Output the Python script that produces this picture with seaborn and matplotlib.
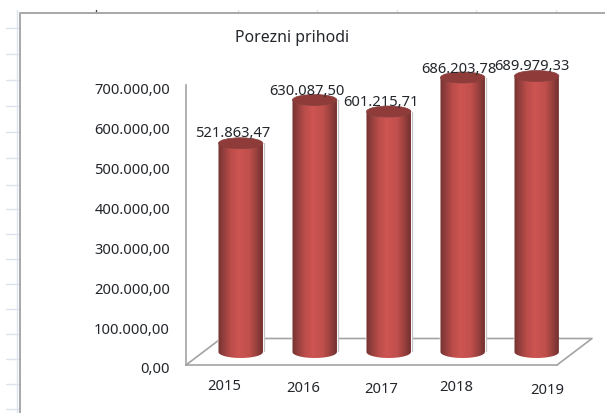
import numpy as np
import matplotlib
matplotlib.use("Agg")
import matplotlib.pyplot as plt
from matplotlib.lines import Line2D
from matplotlib.patches import Ellipse, PathPatch
from matplotlib.path import Path
from matplotlib.colors import LinearSegmentedColormap
from matplotlib.transforms import ScaledTranslation
import seaborn as sns

years = ["2015", "2016", "2017", "2018", "2019"]
revenue = [521863.47, 630087.50, 601215.71, 686203.78, 689979.33]
y_ticks = [0, 100000, 200000, 300000, 400000, 500000, 600000, 700000]
title = "Porezni prihodi"

W, H = 605, 414
sns.set_theme(style="white")
plt.rcParams["font.family"] = ["Noto Sans", "DejaVu Sans"]
TXT = "#23262b"
GREY = "#a3a3a3"
FS = 10.6


def fmt(v):
    return f"{v:,.2f}".replace(",", "#").replace(".", ",").replace("#", ".")


def rect(left, top, right, bottom):
    return [left / W, 1 - bottom / H, (right - left) / W, (bottom - top) / H]


def fx(x):
    return x / W


def fy(y):
    return 1 - y / H


fig = plt.figure(figsize=(W / 100, H / 100), dpi=100, facecolor="white")

# worksheet remnants behind the chart
sheet = "#dde2ee"
for yy in [29, 55, 81, 107, 133, 159, 186, 210, 235, 260, 285, 310, 335, 360, 385, 410]:
    fig.add_artist(Line2D([fx(6), fx(20)], [fy(yy), fy(yy)], color=sheet, lw=1))
fig.add_artist(Line2D([fx(16.5), fx(16.5)], [fy(11), fy(414)], color=sheet, lw=1))
for xx in [238, 317, 397, 476, 556]:
    fig.add_artist(Line2D([fx(xx), fx(xx)], [fy(11), fy(14)], color=sheet, lw=1))
fig.add_artist(Line2D([fx(96), fx(96)], [fy(11), fy(14)], color="#444444", lw=1))
# chart frame
fig.add_artist(Line2D([fx(20), fx(20), fx(605)], [fy(414), fy(14), fy(14)], color="#a8a8a8", lw=1.4))

# value axis and floor front edge
ax = fig.add_axes(rect(186, 86, 557, 366), facecolor="none")
ax.set_ylim(0, 700000)
ax.set_xlim(0, 1)
ax.set_xticks([])
ax.set_yticks(y_ticks)
ax.set_yticklabels([fmt(v) for v in y_ticks], fontsize=FS, color=TXT)
ax.tick_params(axis="y", length=0, pad=11.5)
for lab in ax.get_yticklabels():
    lab.set_transform(lab.get_transform() + ScaledTranslation(0, -2 / 100, fig.dpi_scale_trans))
for s in ["top", "right"]:
    ax.spines[s].set_visible(False)
for s in ["left", "bottom"]:
    ax.spines[s].set_color(GREY)
    ax.spines[s].set_linewidth(1.2)

# floor back edges, kept behind the bars
fig.add_artist(Line2D([fx(186), fx(221), fx(592), fx(557)],
                      [fy(366), fy(339.5), fy(339.5), fy(366)], color=GREY, lw=1.2, zorder=-1))

# bars, raised by the depth of the floor
bx = fig.add_axes(rect(186, 73, 556, 353), facecolor="none")
sns.barplot(x=years, y=revenue, ax=bx, width=0.6, color="#c0504d", saturation=1, errorbar=None)
bx.set_ylim(0, 700000)
bx.set_xlim(-0.739, 4.261)
bx.set_yticks([])
bx.set_ylabel("")
sns.despine(ax=bx, left=True, bottom=True)
bx.tick_params(axis="x", length=0, pad=0)
bx.set_xticks(range(len(years)))
bx.set_xticklabels(years, fontsize=FS, color=TXT)

px_y = 700000 / 280
cyl = LinearSegmentedColormap.from_list(
    "cyl",
    [(0, "#733230"), (0.1, "#8d3d3b"), (0.28, "#bb4d4a"), (0.46, "#cd5552"),
     (0.7, "#c04f4c"), (0.87, "#963f3d"), (1, "#713130")],
)
grad = np.linspace(0, 1, 128).reshape(1, -1)
for p in list(bx.patches):
    x0, w, v = p.get_x(), p.get_width(), p.get_height()
    cx = x0 + w / 2
    t = np.linspace(np.pi, 2 * np.pi, 40)
    bottom_x = cx + w / 2 * np.cos(t)
    bottom_y = 6 * px_y * np.sin(t)
    verts = [(x0, v)] + list(zip(bottom_x, bottom_y)) + [(x0 + w, v), (x0, v)]
    clip = PathPatch(Path(verts), transform=bx.transData, fc="none", ec="none")
    bx.add_patch(clip)
    clip.set_clip_on(False)
    im = bx.imshow(grad, extent=(x0, x0 + w, -6 * px_y, v), aspect="auto", cmap=cyl,
                   zorder=3, interpolation="bilinear", clip_on=True)
    im.set_clip_box(fig.bbox)
    im.set_clip_path(clip)
    bx.add_line(Line2D([x0 + w + 0.012] * 2, [0, v], color="#c4c4c4", lw=0.9, zorder=2))
    e = Ellipse((cx, v), w, 11 * px_y, fc="#8f3b39", ec="#86413f", lw=0.5, zorder=4, clip_on=False)
    bx.add_patch(e)
bx.set_xlim(-0.739, 4.261)
bx.set_ylim(0, 700000)

# data labels, as placed by hand in the source chart
label_dx = [-7.7, -8.2, -7.7, -4, -4.7]
label_dy = [10.5, 9.5, 10, 9.5, 11]
for x, v, dx, dy in zip(range(len(revenue)), revenue, label_dx, label_dy):
    bx.annotate(fmt(v), (x, v), xytext=(dx * 0.72, dy * 0.72),
                textcoords="offset points", ha="center", va="center",
                fontsize=FS, color=TXT, zorder=6, annotation_clip=False)

# category labels, also hand placed
tick_dx = [-16.7, -11.7, -7.7, -6.7, 10.3]
tick_dy = [-34, -36, -37, -35, -38]
for lab, dx, dy in zip(bx.get_xticklabels(), tick_dx, tick_dy):
    lab.set_transform(lab.get_transform() + ScaledTranslation(dx / 100, dy / 100, fig.dpi_scale_trans))
    lab.set_verticalalignment("center")

fig.text(fx(292.5), fy(38), title, fontsize=11.4, color=TXT, ha="center", va="center")

fig.savefig("out.png", dpi=100, facecolor="white")
